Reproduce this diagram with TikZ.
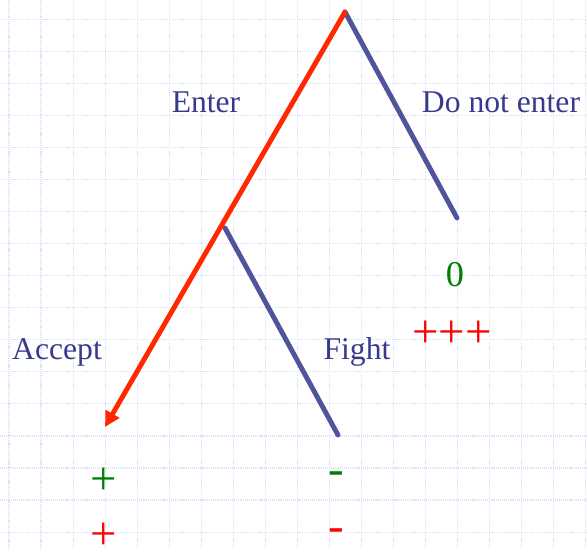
\documentclass[tikz,border=0pt]{standalone}
\usepackage{fontspec}
\setmainfont{Liberation Serif}
\usetikzlibrary{arrows.meta,calc}
\usepackage{tkz-euclide}
\definecolor{GridClr}{RGB}{220,226,250}
\definecolor{BranchClr}{RGB}{80,85,155}
\definecolor{PathClr}{RGB}{255,40,0}
\definecolor{MoveClr}{RGB}{55,58,140}
\definecolor{EntrantClr}{RGB}{0,128,0}
\definecolor{IncumbClr}{RGB}{255,0,0}
\tikzset{
  move/.style={MoveClr,anchor=base,font=\fontsize{27}{30}\selectfont},
  pay/.style={anchor=center,inner sep=0pt,font=\fontsize{40}{44}\selectfont},
}

\begin{document}
\begin{tikzpicture}[scale=3]
\tkzSetUpLine[line width=4.2pt,color=BranchClr]

\tkzDefPoints{0/0/BL,5.87/5.49/TR}
\useasboundingbox (BL) rectangle (TR);

% background grid
\foreach \k in {0,...,18}
  \draw[GridClr,line width=1pt,dash pattern=on 1pt off 0.8pt] (0.09+0.3205*\k,0) -- (0.09+0.3205*\k,5.49);
\foreach \k in {0,...,16}
  \draw[GridClr,line width=1pt,dash pattern=on 1pt off 0.8pt] (0,5.297-0.3205*\k) -- (5.87,5.297-0.3205*\k);

\tkzDefPoints{3.45/5.37/R,4.57/3.31/N,2.25/3.21/E,3.38/1.14/F,1.05/1.22/A}

\tkzDrawSegments(R,N E,F)
\tkzDrawSegments[color=PathClr,-{Triangle[length=13pt,width=13pt]}](R,A)

% moves
\tkzDefPoints{2.06/4.36/Len,5.01/4.36/Lno,0.57/1.89/Lacc,3.57/1.89/Lfig}
\tkzLabelPoint[move](Len){Enter}
\tkzLabelPoint[move](Lno){Do not enter}
\tkzLabelPoint[move](Lacc){Accept}
\tkzLabelPoint[move](Lfig){Fight}

% payoffs
\tkzDefPoints{4.55/2.62/Pno,4.52/2.15/Qno,1.04/0.68/Pacc,1.04/0.13/Qacc,3.36/0.71/Pfig,3.36/0.14/Qfig}
\tkzLabelPoint[EntrantClr,anchor=base,font=\fontsize{31}{34}\selectfont](Pno){0}
\tkzLabelPoint[pay,IncumbClr](Qno){+++}
\tkzLabelPoint[pay,EntrantClr](Pacc){+}
\tkzLabelPoint[pay,IncumbClr](Qacc){+}
\tkzLabelPoint[pay,EntrantClr](Pfig){-}
\tkzLabelPoint[pay,IncumbClr](Qfig){-}

\end{tikzpicture}
\end{document}
